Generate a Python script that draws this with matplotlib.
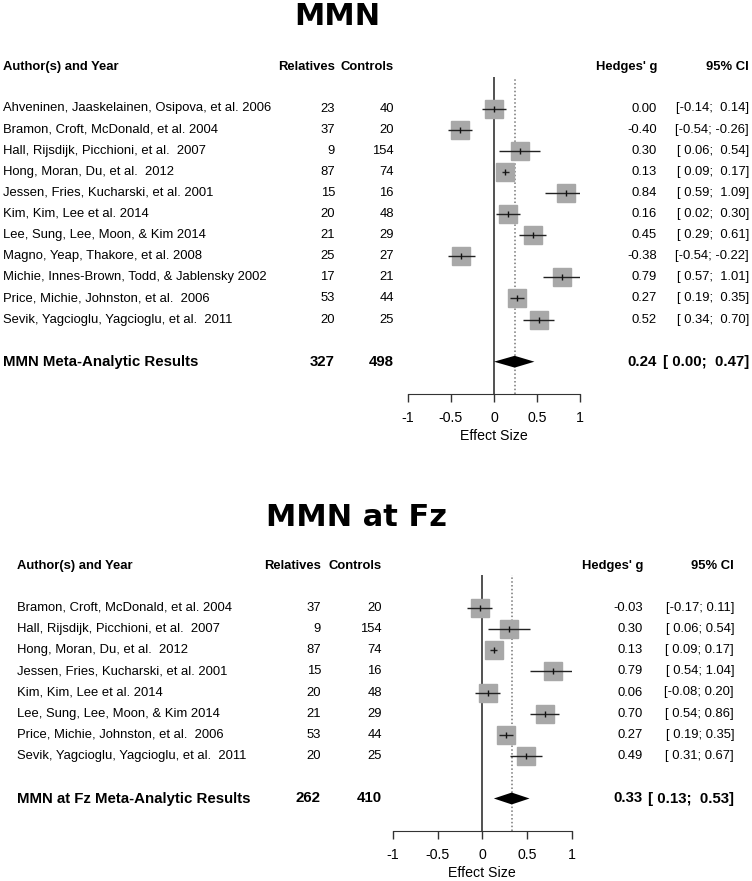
import matplotlib
matplotlib.use("Agg")
import matplotlib.pyplot as plt
from matplotlib import transforms

plt.rcParams['font.family'] = ['Liberation Sans', 'DejaVu Sans']

# ---- data: MMN
names_mmn = ["Ahveninen, Jaaskelainen, Osipova, et al. 2006",
             "Bramon, Croft, McDonald, et al. 2004",
             "Hall, Rijsdijk, Picchioni, et al.  2007",
             "Hong, Moran, Du, et al.  2012",
             "Jessen, Fries, Kucharski, et al. 2001",
             "Kim, Kim, Lee et al. 2014",
             "Lee, Sung, Lee, Moon, & Kim 2014",
             "Magno, Yeap, Thakore, et al. 2008",
             "Michie, Innes-Brown, Todd, & Jablensky 2002",
             "Price, Michie, Johnston, et al.  2006",
             "Sevik, Yagcioglu, Yagcioglu, et al.  2011"]
rel_mmn = [23, 37, 9, 87, 15, 20, 21, 25, 17, 53, 20]
ctl_mmn = [40, 20, 154, 74, 16, 48, 29, 27, 21, 44, 25]
g_mmn = [0.00, -0.40, 0.30, 0.13, 0.84, 0.16, 0.45, -0.38, 0.79, 0.27, 0.52]
lo_mmn = [-0.14, -0.54, 0.06, 0.09, 0.59, 0.02, 0.29, -0.54, 0.57, 0.19, 0.34]
hi_mmn = [0.14, -0.26, 0.54, 0.17, 1.09, 0.30, 0.61, -0.22, 1.01, 0.35, 0.70]
sum_mmn = ("MMN Meta-Analytic Results", 327, 498, 0.24, 0.00, 0.47)

# ---- data: MMN at Fz
names_fz = ["Bramon, Croft, McDonald, et al. 2004",
            "Hall, Rijsdijk, Picchioni, et al.  2007",
            "Hong, Moran, Du, et al.  2012",
            "Jessen, Fries, Kucharski, et al. 2001",
            "Kim, Kim, Lee et al. 2014",
            "Lee, Sung, Lee, Moon, & Kim 2014",
            "Price, Michie, Johnston, et al.  2006",
            "Sevik, Yagcioglu, Yagcioglu, et al.  2011"]
rel_fz = [37, 9, 87, 15, 20, 21, 53, 20]
ctl_fz = [20, 154, 74, 16, 48, 29, 44, 25]
g_fz = [-0.03, 0.30, 0.13, 0.79, 0.06, 0.70, 0.27, 0.49]
lo_fz = [-0.17, 0.06, 0.09, 0.54, -0.08, 0.54, 0.19, 0.31]
hi_fz = [0.11, 0.54, 0.17, 1.04, 0.20, 0.86, 0.35, 0.67]
sum_fz = ("MMN at Fz Meta-Analytic Results", 262, 410, 0.33, 0.13, 0.53)

xticks = [-1, -0.5, 0, 0.5, 1]
xticklabels = ["-1", "-0.5", "0", "0.5", "1"]

W, H = 752, 881
fig = plt.figure(figsize=(W / 100, H / 100), dpi=100)

FS = 9.4
SQ = '#a8a8a8'


def panel(title, title_x, title_y, names, rel, ctl, g, lo, hi, summ,
          xl, xr, ytop, yaxis, yfirst, sp, sum_idx, cols):
    # axes rect in pixels
    ax = fig.add_axes([xl / W, 1 - yaxis / H, (xr - xl) / W, (yaxis - ytop) / H])
    ax.set_xlim(-1, 1)
    ax.set_ylim((yaxis - yfirst) / sp, (ytop - yfirst) / sp)
    for s in ['top', 'right', 'left']:
        ax.spines[s].set_visible(False)
    ax.spines['bottom'].set_color('#333333')
    ax.set_yticks([])
    ax.set_xticks(xticks)
    ax.set_xticklabels(xticklabels, fontsize=10.2)
    ax.tick_params(axis='x', length=6, width=1, color='#333333', pad=6)
    ax.set_xlabel("Effect Size", fontsize=10.2, labelpad=3)
    ax.patch.set_alpha(0)

    idx = list(range(len(names)))
    label, n_rel, n_ctl, est, elo, ehi = summ

    ax.axvline(0, color='#222222', lw=1.1, zorder=1)
    ax.axvline(est, color='#777777', lw=1.1, ls=(0, (1, 1.5)), zorder=1)
    ax.plot(g, idx, 's', ms=12.8, color=SQ, mec=SQ, zorder=2)
    ax.hlines(idx, lo, hi, color='#222222', lw=1.0, zorder=3)
    ax.plot(g, idx, '|', ms=5, mew=1.0, color='#111111', zorder=4)
    ax.fill([elo, est, ehi, est],
            [sum_idx, sum_idx - 0.28, sum_idx, sum_idx + 0.28],
            color='black', lw=0, zorder=4)

    tr = transforms.blended_transform_factory(fig.transFigure, ax.transData)
    x_name, x_rel, x_ctl, x_g, x_ci = [c / W for c in cols]
    hy = -1.97
    kw = dict(transform=tr, va='center', clip_on=False, fontsize=FS)
    ax.text(x_name, hy, "Author(s) and Year", ha='left', weight='bold', **kw)
    ax.text(x_rel, hy, "Relatives", ha='right', weight='bold', **kw)
    ax.text(x_ctl, hy, "Controls", ha='right', weight='bold', **kw)
    ax.text(x_g, hy, "Hedges' g", ha='right', weight='bold', **kw)
    ax.text(x_ci, hy, "95% CI", ha='right', weight='bold', **kw)

    # R-style padded CI strings
    wl = max(len("%.2f" % v) for v in lo)
    wh = max(len("%.2f" % v) for v in hi)
    for i in idx:
        ax.text(x_name, i, names[i], ha='left', **kw)
        ax.text(x_rel, i, str(rel[i]), ha='right', **kw)
        ax.text(x_ctl, i, str(ctl[i]), ha='right', **kw)
        ax.text(x_g, i, "%.2f" % g[i], ha='right', **kw)
        ax.text(x_ci, i, "[%*.2f; %*.2f]" % (wl, lo[i], wh, hi[i]), ha='right', **kw)

    kb = dict(kw)
    kb['fontsize'] = 10.8
    ax.text(x_name, sum_idx, label, ha='left', weight='bold', **kb)
    ax.text(x_rel, sum_idx, str(n_rel), ha='right', weight='bold', **kb)
    ax.text(x_ctl, sum_idx, str(n_ctl), ha='right', weight='bold', **kb)
    ax.text(x_g, sum_idx, "%.2f" % est, ha='right', weight='bold', **kb)
    ax.text(x_ci, sum_idx, "[%5.2f; %5.2f]" % (elo, ehi), ha='right', weight='bold', **kb)

    fig.text(title_x / W, 1 - title_y / H, title, ha='center', va='baseline',
             fontsize=22, weight='bold', family='DejaVu Sans')
    return ax


panel("MMN", 337, 25, names_mmn, rel_mmn, ctl_mmn, g_mmn, lo_mmn, hi_mmn, sum_mmn,
      408, 580, 77, 394, 108.5, 21.1, 12, [3, 335, 394, 657, 749])
panel("MMN at Fz", 357, 526, names_fz, rel_fz, ctl_fz, g_fz, lo_fz, hi_fz, sum_fz,
      393, 571.5, 575, 831, 607.7, 21.2, 9, [17, 321, 382, 643, 734])

fig.savefig("out.png", dpi=100, facecolor='white')
